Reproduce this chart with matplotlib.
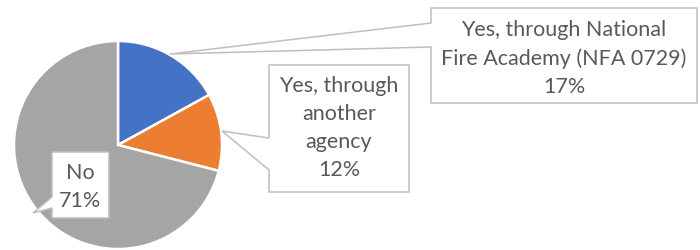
import matplotlib
matplotlib.use("Agg")
import matplotlib.pyplot as plt
from matplotlib.patches import Polygon

# data
labels = ["Yes, through National\nFire Academy (NFA 0729)",
          "Yes, through\nanother\nagency",
          "No"]
values = [17, 12, 71]
colors = ["#4472C4", "#ED7D31", "#A5A5A5"]

H = 250  # figure height in px, used to flip pixel y

fig = plt.figure(figsize=(7, 2.5), dpi=100)
ax = fig.add_axes([0, 0, 1, 1])
ax.set_xlim(0, 700)
ax.set_ylim(0, H)
ax.set_aspect("equal")
ax.axis("off")

ax.pie(values, colors=colors, startangle=90, counterclock=False,
       center=(118, H - 145), radius=104,
       wedgeprops=dict(edgecolor="white", linewidth=1.8))
ax.set_xlim(0, 700)
ax.set_ylim(0, H)

# callouts: box corners + pointer, in pixel coords (y down)
callouts = [
    [(431, 8), (697, 8), (697, 103), (431, 103), (431, 47), (170, 54), (431, 23)],
    [(269, 65), (409, 65), (409, 192), (269, 192), (269, 170), (222, 131), (269, 138)],
    [(52, 152), (109, 152), (109, 218), (52, 218), (52, 208), (33, 213), (52, 197)],
]
text_pos = [(564, 58.5), (339, 128.5), (80.5, 187)]

for pts, lab, v, (tx, ty) in zip(callouts, labels, values, text_pos):
    poly = Polygon([(x, H - y) for x, y in pts], closed=True,
                   facecolor="white", edgecolor="#BFBFBF", linewidth=1.1, zorder=3)
    ax.add_patch(poly)
    ax.text(tx, H - ty, "%s\n%d%%" % (lab, v), ha="center", va="center",
            multialignment="center", fontsize=15.5, family="Lato",
            color="#595959", linespacing=1.5, zorder=4)

fig.savefig("out.png", dpi=100)
